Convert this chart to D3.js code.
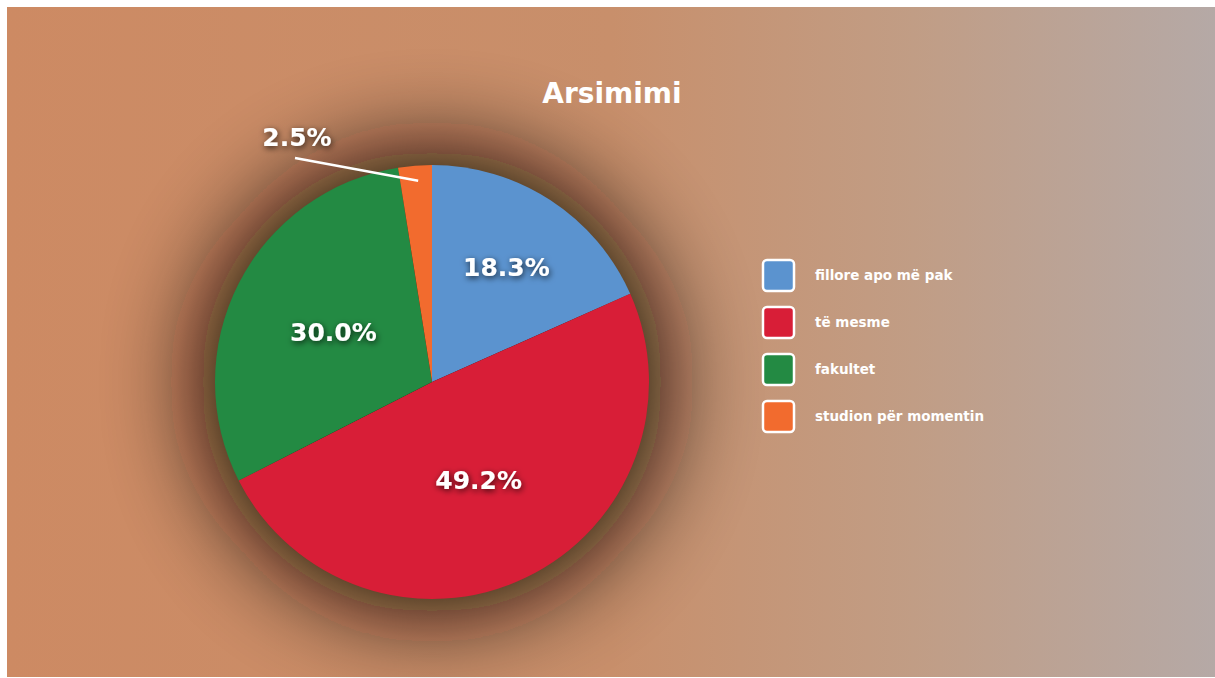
<!DOCTYPE html>
<html>
<head>
<meta charset="utf-8">
<script src="https://cdn.jsdelivr.net/npm/d3@7"></script>
<style>
  html, body { margin: 0; padding: 0; background: #fff; }
  svg { display: block; }
</style>
</head>
<body>
<div id="chart"></div>
<script>
// data: counts out of 120 respondents
const categories = ["fillore apo më pak", "të mesme", "fakultet", "studion për momentin"];
const counts = [22, 59, 36, 3];
const colors = ["#5b93cf", "#d81e37", "#238a43", "#f26b2e"];
const title = "Arsimimi";

const width = 1215, height = 678;
const cx = 432, cy = 382, radius = 217;
const font = "'DejaVu Sans', sans-serif";

const svg = d3.select("#chart").append("svg")
  .attr("width", width)
  .attr("height", height);

const defs = svg.append("defs");

// background gradient
const grad = defs.append("linearGradient")
  .attr("id", "bg")
  .attr("x1", "0%").attr("x2", "100%")
  .attr("y1", "0%").attr("y2", "0%");
[[0, "#cd8a63"], [0.5, "#c88f6b"], [0.75, "#c19d85"], [1, "#b5a9a6"]].forEach(s => {
  grad.append("stop").attr("offset", s[0]).attr("stop-color", s[1]);
});

// pie shadow
defs.append("filter")
  .attr("id", "shadow")
  .attr("filterUnits", "userSpaceOnUse")
  .attr("x", -600).attr("y", -600)
  .attr("width", 1200).attr("height", 1200)
  .append("feGaussianBlur")
  .attr("stdDeviation", 48);

// text shadow
const ts = defs.append("filter")
  .attr("id", "tshadow")
  .attr("x", "-30%").attr("y", "-50%")
  .attr("width", "160%").attr("height", "200%");
ts.append("feDropShadow")
  .attr("dx", 1).attr("dy", 2)
  .attr("stdDeviation", 3)
  .attr("flood-color", "#000")
  .attr("flood-opacity", 0.75);

svg.append("rect")
  .attr("x", 7).attr("y", 7)
  .attr("width", width - 7).attr("height", height - 8)
  .attr("fill", "url(#bg)");

const total = d3.sum(counts);
const pie = d3.pie().sort(null)(counts);
const arc = d3.arc().innerRadius(0).outerRadius(radius);

const g = svg.append("g").attr("transform", `translate(${cx},${cy})`);

g.append("circle")
  .attr("r", radius + 14)
  .attr("fill", "#160a04")
  .attr("opacity", 0.95)
  .attr("filter", "url(#shadow)");

svg.append("text")
  .attr("x", 612).attr("y", 103)
  .attr("text-anchor", "middle")
  .attr("font-family", font)
  .attr("font-weight", "bold")
  .attr("font-size", 28)
  .attr("fill", "#fff")
  .text(title);

g.selectAll("path.slice")
  .data(pie)
  .join("path")
  .attr("class", "slice")
  .attr("d", arc)
  .attr("fill", (d, i) => colors[i]);

// label positions (fraction of radius)
const labelR = [0.63, 0.50, 0.51, 1.2];
const fmt = v => (v / total * 100).toFixed(1) + "%";

pie.forEach((d, i) => {
  const a = (d.startAngle + d.endAngle) / 2;
  let x = Math.sin(a) * radius * labelR[i];
  let y = -Math.cos(a) * radius * labelR[i];
  if (i === 3) {
    // small slice: label outside with leader line
    x = -135; y = -234;
    g.append("line")
      .attr("x1", x - 2).attr("y1", y + 10)
      .attr("x2", Math.sin(a) * radius * 0.93 + 2)
      .attr("y2", -Math.cos(a) * radius * 0.93)
      .attr("stroke", "#fff")
      .attr("stroke-width", 2.5);
    y = y - 11;
  }
  g.append("text")
    .attr("x", x).attr("y", y)
    .attr("dy", "0.36em")
    .attr("text-anchor", "middle")
    .attr("font-family", font)
    .attr("font-weight", "bold")
    .attr("font-size", 25)
    .attr("fill", "#fff")
    .attr("filter", "url(#tshadow)")
    .text(fmt(d.data));
});

// legend
const legend = svg.append("g").attr("transform", "translate(762,259)");
const row = d3.scaleBand().domain(categories).range([0, 188]);

categories.forEach((c, i) => {
  const y = row(c);
  legend.append("rect")
    .attr("x", 1).attr("y", y + 1)
    .attr("width", 31).attr("height", 31)
    .attr("rx", 4)
    .attr("fill", colors[i])
    .attr("stroke", "#fff")
    .attr("stroke-width", 2.5);
  legend.append("text")
    .attr("x", 53).attr("y", y + 16)
    .attr("dy", "0.35em")
    .attr("font-family", font)
    .attr("font-weight", "bold")
    .attr("font-size", 13.5)
    .attr("fill", "#fff")
    .text(c);
});
</script>
</body>
</html>
